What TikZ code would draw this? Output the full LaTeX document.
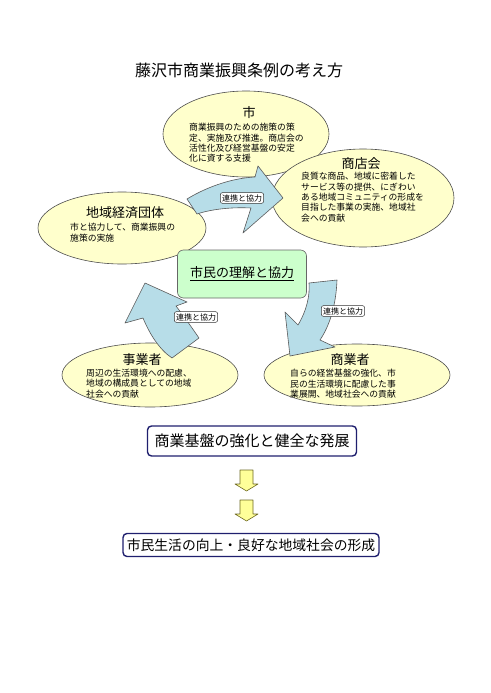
\documentclass[tikz,border=0pt]{standalone}
\usepackage{fontspec}
\setmainfont{Noto Sans CJK JP}
\definecolor{globo}{HTML}{FFFFCC}
\definecolor{flecha}{HTML}{B7DDE8}
\definecolor{verde}{HTML}{CCFFCC}
\definecolor{marino}{HTML}{1F1F6E}
\definecolor{amarillo}{HTML}{FFFF99}
\begin{document}
\begin{tikzpicture}[x=1pt, y=-1pt, line join=round,
  globo/.style={draw=black!70, fill=globo, line width=0.6pt},
  bloque/.style={draw=black!65, fill=flecha, line width=0.6pt},
  tit/.style={font=\fontsize{13}{15}\selectfont, inner sep=0pt},
  cuerpo/.style={font=\fontsize{8.8}{10.4}\selectfont, align=left, anchor=north west, inner sep=0pt},
  enlace/.style={draw=black!80, fill=white, rounded corners=2pt, font=\fontsize{8}{9.5}\selectfont, inner sep=1.6pt, line width=0.5pt},
  meta/.style={draw=marino, line width=1.4pt, rounded corners=4pt, fill=white},
  bajada/.style={draw=olive!70!black, fill=amarillo, line width=0.6pt}]
  \useasboundingbox (0,0) rectangle (490,693);
  % el título
  \node[font=\fontsize{16}{18}\selectfont, inner sep=0pt] (titulo) at (239,70) {藤沢市商業振興条例の考え方};
  % los cinco globos
  \filldraw[globo] (246,134) ellipse (83pt and 43pt);
  \filldraw[globo] (363,198) ellipse (91pt and 49pt);
  \filldraw[globo] (122,228) ellipse (84pt and 36pt);
  \filldraw[globo] (150,375) ellipse (88pt and 32pt);
  \filldraw[globo] (357,375) ellipse (93pt and 31pt);
  \node[tit] (shi) at (249,113) {市};
  \node[cuerpo] (shi-txt) at (189,123) {商業振興のための施策の策\\定、実施及び推進。商店会の\\活性化及び経営基盤の安定\\化に資する支援};
  \node[tit] (shotenkai) at (361,164) {商店会};
  \node[cuerpo] (shotenkai-txt) at (301,172) {良質な商品、地域に密着した\\サービス等の提供、にぎわい\\ある地域コミュニティの形成を\\目指した事業の実施、地域社\\会への貢献};
  \node[tit] (dantai) at (125,213) {地域経済団体};
  \node[cuerpo] (dantai-txt) at (70,223) {市と協力して、商業振興の\\施策の実施};
  \node[tit] (jigyosha) at (142,360) {事業者};
  \node[cuerpo] (jigyosha-txt) at (86,369) {周辺の生活環境への配慮、\\地域の構成員としての地域\\社会への貢献};
  \node[tit] (shogyosha) at (350,360) {商業者};
  \node[cuerpo] (shogyosha-txt) at (290,369) {自らの経営基盤の強化、市\\民の生活環境に配慮した事\\業展開、地域社会への貢献};
  % las tres flechas curvas, encima de los globos
  \filldraw[bloque] (187,199) .. controls (210,185) and (235,178) .. (255,177) -- (258,166) -- (283,198)
    -- (243,233) -- (251,208) .. controls (232,207) and (212,209) .. (197,214) -- cycle;
  \filldraw[bloque] (199,338) .. controls (190,325) and (183,315) .. (176,306) -- (187,302) -- (145,283)
    -- (125,323) -- (143,318) .. controls (150,335) and (160,350) .. (172,358) -- cycle;
  \filldraw[bloque] (337,280) .. controls (336,305) and (330,325) .. (320,340) -- (335,347) -- (290,356)
    -- (285,312) -- (298,325) .. controls (307,310) and (310,295) .. (309,283) -- cycle;
  \node[enlace] (renkei-a) at (242,198) {連携と協力};
  \node[enlace] (renkei-b) at (196,317) {連携と協力};
  \node[enlace] (renkei-c) at (343,311) {連携と協力};
  % el recuadro verde del centro
  \node[draw=black!60, fill=verde, rounded corners=6pt, line width=0.6pt, minimum width=129, minimum height=48,
    font=\fontsize{13}{15}\selectfont] (rikai) at (242,274) {\underline{市民の理解と協力}};
  % los dos resultados y las flechas amarillas
  \node[meta, minimum width=209, minimum height=30, font=\fontsize{15}{17}\selectfont] (kiban) at (252,441) {商業基盤の強化と健全な発展};
  \node[meta, minimum width=256, minimum height=23, font=\fontsize{13.8}{15}\selectfont] (seikatsu) at (251,545) {市民生活の向上・良好な地域社会の形成};
  \foreach \y in {470,500} {
    \filldraw[bajada] (240,\y) -- (253,\y) -- (253,\y+14) -- (258,\y+14) -- (246.5,\y+21)
      -- (235,\y+14) -- (240,\y+14) -- cycle;
  }
\end{tikzpicture}
\end{document}
